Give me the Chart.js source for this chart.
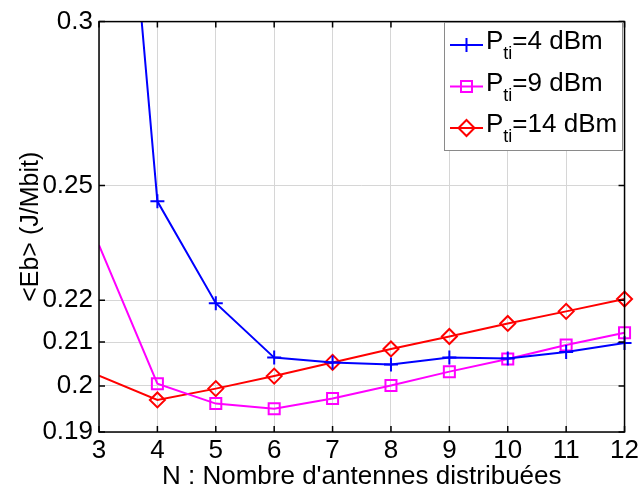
<!DOCTYPE html>
<html>
<head>
<meta charset="utf-8">
<script src="https://cdn.jsdelivr.net/npm/chart.js@4/dist/chart.umd.min.js"></script>
<style>
  html, body { margin: 0; padding: 0; background: #fff; }
</style>
</head>
<body>
<canvas id="chart" width="642" height="490"></canvas>
<script>
// x values: number of distributed antennas
const antennas = [3, 4, 5, 6, 7, 8, 9, 10, 11, 12];

// <Eb> in J/Mbit
const eb4dBm = [0.517, 0.2456, 0.2193, 0.2064, 0.2053, 0.2048, 0.2064, 0.2062, 0.2077, 0.2098];
const eb9dBm = [0.2339, 0.2005, 0.1961, 0.1950, 0.1972, 0.2001, 0.2032, 0.2061, 0.2093, 0.2122];
const eb14dBm = [0.2023, 0.1969, 0.1994, 0.2022, 0.2053, 0.2084, 0.2113, 0.2144, 0.2173, 0.2203];

const yTicks = [0.19, 0.2, 0.21, 0.22, 0.25, 0.3];
const xTicks = [3, 4, 5, 6, 7, 8, 9, 10, 11, 12];

const legendItems = [
  { label: "=4 dBm", color: "#0000ff", marker: "cross" },
  { label: "=9 dBm", color: "#ff00ff", marker: "rect" },
  { label: "=14 dBm", color: "#ff0000", marker: "diamond" },
];

const FONT = "Liberation Sans, Arial, sans-serif";

function toPoints(values) {
  return values.map((v, i) => ({ x: antennas[i], y: v }));
}

// markers are not drawn at N=3 in the original
const noFirst = (r) => antennas.map((n, i) => (i === 0 ? 0 : r));

function drawMarker(ctx, type, x, y, color) {
  ctx.save();
  ctx.strokeStyle = color;
  ctx.lineWidth = 2;
  ctx.beginPath();
  if (type === "cross") {
    ctx.moveTo(x - 7, y); ctx.lineTo(x + 7, y);
    ctx.moveTo(x, y - 7); ctx.lineTo(x, y + 7);
  } else if (type === "rect") {
    ctx.rect(x - 5.5, y - 5.5, 11, 11);
  } else {
    ctx.moveTo(x, y - 8); ctx.lineTo(x + 8, y);
    ctx.lineTo(x, y + 8); ctx.lineTo(x - 8, y);
    ctx.closePath();
  }
  ctx.stroke();
  ctx.restore();
}

const framePlugin = {
  id: "frame",
  afterDraw(chart) {
    const ctx = chart.ctx;
    const a = chart.chartArea;
    const xs = chart.scales.x;
    const ys = chart.scales.y;
    ctx.save();
    // axes box
    ctx.strokeStyle = "#000";
    ctx.lineWidth = 1.5;
    ctx.strokeRect(a.left, a.top, a.right - a.left, a.bottom - a.top);
    // inward ticks on all four sides
    ctx.beginPath();
    xTicks.forEach((t) => {
      const px = xs.getPixelForValue(t);
      ctx.moveTo(px, a.top); ctx.lineTo(px, a.top + 6);
      ctx.moveTo(px, a.bottom); ctx.lineTo(px, a.bottom - 6);
    });
    yTicks.forEach((t) => {
      const py = ys.getPixelForValue(t);
      ctx.moveTo(a.left, py); ctx.lineTo(a.left + 6, py);
      ctx.moveTo(a.right, py); ctx.lineTo(a.right - 6, py);
    });
    ctx.stroke();

    // axis titles
    ctx.fillStyle = "#000";
    ctx.font = "26px " + FONT;
    ctx.textAlign = "center";
    ctx.textBaseline = "alphabetic";
    ctx.fillText("N : Nombre d'antennes distribuées", (a.left + a.right) / 2, 484);
    ctx.save();
    ctx.translate(38, (a.top + a.bottom) / 2);
    ctx.rotate(-Math.PI / 2);
    ctx.font = "25px " + FONT;
    ctx.fillText("<Eb> (J/Mbit)", 0, 0);
    ctx.restore();

    // legend box with subscripts
    const bx = 444, by = 22, bw = 178, bh = 128;
    ctx.fillStyle = "#fff";
    ctx.fillRect(bx, by, bw, bh);
    ctx.strokeStyle = "#8a8a8a";
    ctx.lineWidth = 1;
    ctx.strokeRect(bx + 0.5, by + 0.5, bw, bh);
    legendItems.forEach((item, i) => {
      const cy = 45 + i * 41.5;
      ctx.strokeStyle = item.color;
      ctx.lineWidth = 2;
      ctx.beginPath();
      ctx.moveTo(450, cy); ctx.lineTo(483, cy);
      ctx.stroke();
      drawMarker(ctx, item.marker, 466.5, cy, item.color);
      ctx.fillStyle = "#000";
      ctx.textAlign = "left";
      ctx.textBaseline = "alphabetic";
      ctx.font = "26px " + FONT;
      ctx.fillText("P", 486, cy + 4);
      const pw = ctx.measureText("P").width;
      ctx.font = "18px " + FONT;
      ctx.fillText("ti", 486 + pw, cy + 14);
      const tw = ctx.measureText("ti").width;
      ctx.font = "26px " + FONT;
      ctx.fillText(item.label, 486 + pw + tw, cy + 4);
    });
    ctx.restore();
  },
};

function dataset(values, color, style, radius) {
  return {
    data: toPoints(values),
    borderColor: color,
    backgroundColor: "rgba(0,0,0,0)",
    borderWidth: 2,
    pointStyle: style,
    pointRadius: noFirst(radius),
    pointBorderWidth: 2,
    pointBorderColor: color,
    pointBackgroundColor: "rgba(0,0,0,0)",
    tension: 0,
    clip: { left: 0, top: 0, right: 12, bottom: 12 },
  };
}

const chartConfig = {
  type: "line",
  data: {
    datasets: [
      dataset(eb4dBm, "#0000ff", "cross", 7),
      dataset(eb9dBm, "#ff00ff", "rect", 7.8),
      dataset(eb14dBm, "#ff0000", "rectRot", 7.5),
    ],
  },
  options: {
    responsive: false,
    animation: false,
    layout: { padding: { left: 0, top: 17, right: 15, bottom: 0 } },
    plugins: {
      legend: { display: false },
      tooltip: { enabled: false },
    },
    scales: {
      x: {
        type: "linear",
        min: 3,
        max: 12,
        afterBuildTicks: (scale) => {
          scale.ticks = xTicks.map((v) => ({ value: v }));
        },
        afterFit: (scale) => {
          scale.height = 58;
        },
        grid: { color: "#d6d6d6", lineWidth: 1, drawTicks: false },
        border: { display: false },
        ticks: {
          color: "#000",
          font: { family: FONT, size: 26 },
          padding: 3,
          maxRotation: 0,
          callback: (v) => String(v),
        },
      },
      y: {
        type: "logarithmic",
        min: 0.19,
        max: 0.3,
        afterBuildTicks: (scale) => {
          scale.ticks = yTicks.map((v) => ({ value: v }));
        },
        afterFit: (scale) => {
          scale.width = 99;
        },
        grid: { color: "#d6d6d6", lineWidth: 1, drawTicks: false },
        border: { display: false },
        ticks: {
          color: "#000",
          font: { family: FONT, size: 26 },
          padding: 6,
          callback: (v) => String(v),
        },
      },
    },
  },
  plugins: [framePlugin],
};

new Chart(document.getElementById("chart").getContext("2d"), chartConfig);
</script>
</body>
</html>
